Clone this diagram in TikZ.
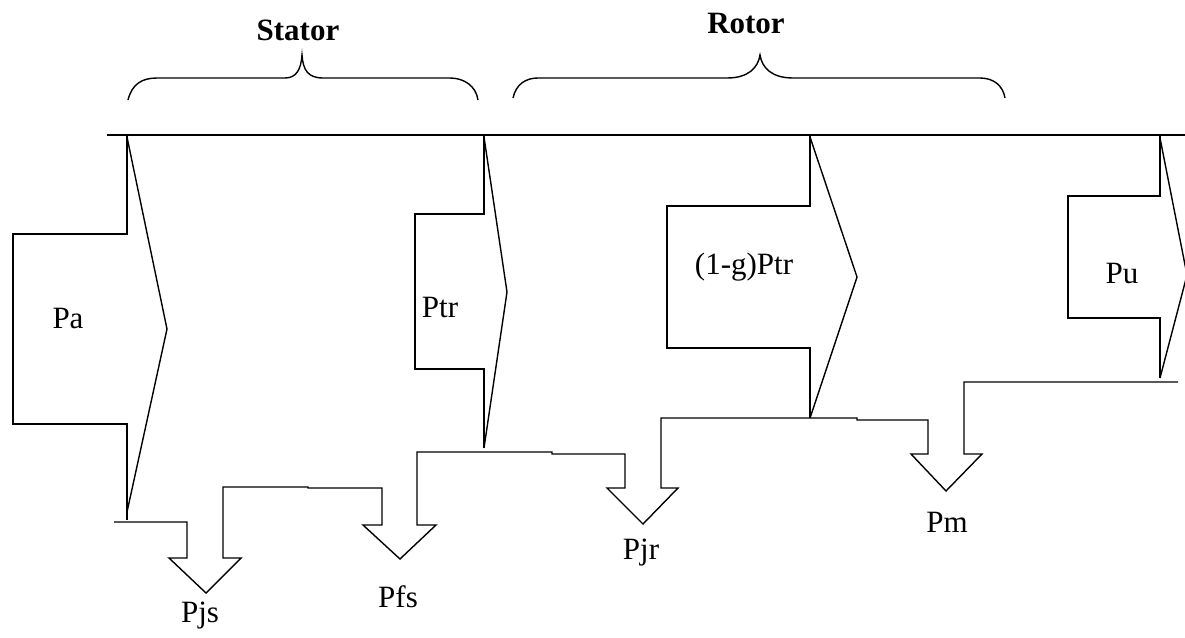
\documentclass[tikz,border=0pt]{standalone}
\usepackage{fontspec}
\setmainfont{Liberation Serif}
\begin{document}
\begin{tikzpicture}[x=1pt,y=-1pt,
  ln/.style={line width=1.4pt,line join=miter},
  lbl/.style={inner sep=0pt,anchor=base,font=\fontsize{31}{36}\selectfont},
  ttl/.style={inner sep=0pt,anchor=base,font=\fontsize{31}{36}\selectfont\bfseries}]
\useasboundingbox[fill=white] (0,0) rectangle (1185,637);
% top line
\draw[ln] (107,135) -- (1185,135);
% braces
\draw[ln] (128,100) .. controls (132,84) and (142,78) .. (157,78) -- (285,78)
  .. controls (296,78) and (301,70) .. (302,55)
  .. controls (303,70) and (308,78) .. (323,78) -- (450,78)
  .. controls (464,78) and (476,86) .. (478,100);
\draw[ln] (513,98) .. controls (516,84) and (526,78) .. (538,78) -- (727,78)
  .. controls (748,78) and (758,68) .. (760,55)
  .. controls (762,68) and (772,78) .. (793,78) -- (980,78)
  .. controls (994,78) and (1003,86) .. (1005,98);
\node[ttl] (stator) at (298,40) {Stator};
\node[ttl] (rotor) at (746,33) {Rotor};
% Pa arrow
\draw[ln] (127,135) -- (127,234) -- (13,234) -- (13,424) -- (127,424) -- (127,520);
\draw[ln] (127,137) -- (167,329) -- (127,512);
% Ptr arrow
\draw[ln] (484,135) -- (484,214) -- (415,214) -- (415,369) -- (484,369) -- (484,448);
\draw[ln] (484,137) -- (507,292) -- (484,448);
% (1-g)Ptr arrow
\draw[ln] (810,135) -- (810,206) -- (667,206) -- (667,348) -- (810,348) -- (810,418);
\draw[ln] (810,137) -- (857,277) -- (810,418);
% Pu arrow
\draw[ln] (1160,135) -- (1160,196) -- (1068,196) -- (1068,318) -- (1160,318) -- (1160,378);
\draw[ln] (1160,138) -- (1187,275) -- (1160,378);
% loss arrows chain
\draw[ln] (114,522) -- (187,522) -- (187,558) -- (169,558) -- (206,593) -- (241,558)
  -- (223,558) -- (223,487) -- (308,487) -- (308,488) -- (382,488) -- (382,525)
  -- (363,525) -- (400,559) -- (436,525) -- (417,525) -- (417,452) -- (552,452)
  -- (552,454) -- (625,454) -- (625,488) -- (607,488) -- (643,524) -- (678,488)
  -- (661,488) -- (661,418) -- (857,418) -- (857,420) -- (928,420) -- (928,454)
  -- (911,454) -- (946,491) -- (982,454) -- (964,454) -- (964,382) -- (1178,382);
% labels
\node[lbl] (pa) at (68,328) {Pa};
\node[lbl] (ptr) at (440,317) {Ptr};
\node[lbl] (pgtr) at (744,274) {(1-g)Ptr};
\node[lbl] (pu) at (1122,283) {Pu};
\node[lbl] (pjs) at (200,622) {Pjs};
\node[lbl] (pfs) at (398,607) {Pfs};
\node[lbl] (pjr) at (641,559) {Pjr};
\node[lbl] (pm) at (947,532) {Pm};
\end{tikzpicture}
\end{document}
